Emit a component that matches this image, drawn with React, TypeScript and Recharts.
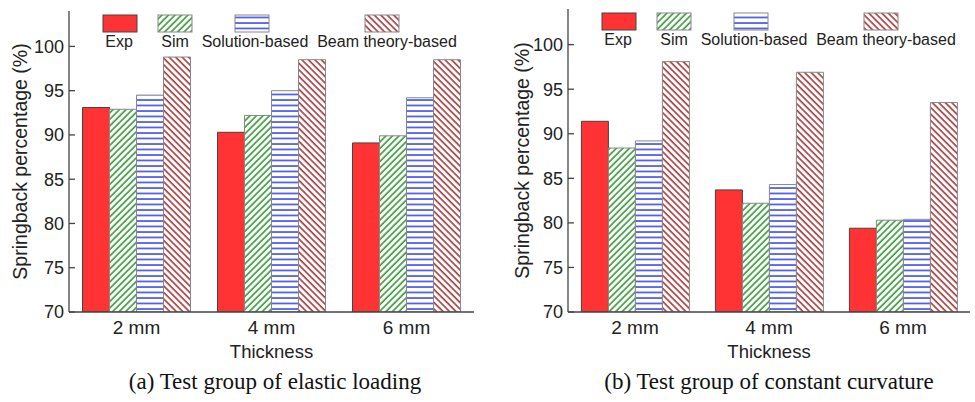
import { BarChart, Bar, XAxis, YAxis } from "recharts";

const thickness = ["2 mm", "4 mm", "6 mm"];
const seriesNames = ["Exp", "Sim", "Solution-based", "Beam theory-based"];

// (a) elastic loading
const elasticExp = [93.1, 90.3, 89.1];
const elasticSim = [92.9, 92.2, 89.9];
const elasticSol = [94.5, 95.0, 94.2];
const elasticBeam = [98.8, 98.5, 98.5];

// (b) constant curvature
const curvatureExp = [91.4, 83.7, 79.4];
const curvatureSim = [88.4, 82.2, 80.3];
const curvatureSol = [89.2, 84.3, 80.4];
const curvatureBeam = [98.1, 96.9, 93.5];

const yTicks = [70, 75, 80, 85, 90, 95, 100];

const AXIS = "#444";
const SANS = "'Liberation Sans', Arial, sans-serif";
const fills = ["#ff3333", "url(#pSim)", "url(#pSol)", "url(#pBeam)"];
const strokes = ["#444", "#888", "#888", "#888"];
const keys = ["exp", "sim", "sol", "beam"];

function Patterns() {
  return (
    <svg width={0} height={0} style={{ position: "absolute" }}>
      <defs>
        <pattern id="pSim" patternUnits="userSpaceOnUse" width={4.6} height={4.6} patternTransform="rotate(45)">
          <rect width={4.6} height={4.6} fill="#fff" />
          <line x1={1} y1={0} x2={1} y2={4.6} stroke="#1a8c1a" strokeWidth={1.4} />
        </pattern>
        <pattern id="pSol" patternUnits="userSpaceOnUse" width={6} height={5.5}>
          <rect width={6} height={5.5} fill="#fff" />
          <line x1={0} y1={1} x2={6} y2={1} stroke="#2233ee" strokeWidth={1.4} />
        </pattern>
        <pattern id="pBeam" patternUnits="userSpaceOnUse" width={4.6} height={4.6} patternTransform="rotate(-45)">
          <rect width={4.6} height={4.6} fill="#fff" />
          <line x1={1} y1={0} x2={1} y2={4.6} stroke="#9b1c1c" strokeWidth={1.4} />
        </pattern>
      </defs>
    </svg>
  );
}

const YTick = (props: any) => {
  const { x, y, payload } = props;
  return (
    <g>
      <line x1={x + 5} x2={x + 11} y1={y} y2={y} stroke={AXIS} strokeWidth={1.3} />
      <text x={x} y={y} dy="0.35em" textAnchor="end" fontSize={18} fontFamily={SANS} fill="#222">
        {payload.value}
      </text>
    </g>
  );
};

const swatchX = [34, 89, 166, 296];
const labelX = [50, 106, 186, 318];

function LegendOverlay({ plotLeft, top }: { plotLeft: number; top: number }) {
  return (
    <svg width="100%" height={60} style={{ position: "absolute", left: 0, top: 0, pointerEvents: "none" }}>
      {seriesNames.map((name, i) => (
        <g key={name}>
          <rect x={plotLeft + swatchX[i]} y={top} width={34} height={17} fill={fills[i]} stroke={strokes[i]} />
          <text x={plotLeft + labelX[i]} y={top + 32} textAnchor="middle" fontSize={16} fontFamily={SANS} fill="#222">
            {name}
          </text>
        </g>
      ))}
    </svg>
  );
}

function SpringbackChart(props: {
  exp: number[];
  sim: number[];
  sol: number[];
  beam: number[];
  width: number;
  yAxisWidth: number;
  top: number;
  right: number;
  labelX: number;
}) {
  const { exp, sim, sol, beam, width, yAxisWidth, top, right, labelX } = props;
  const data = thickness.map((t, i) => ({ t, exp: exp[i], sim: sim[i], sol: sol[i], beam: beam[i] }));
  const height = 370;
  const xAxisHeight = 58;
  const plotMid = (top + height - xAxisHeight) / 2;
  return (
    <div style={{ position: "relative", width, height }}>
      <BarChart
        width={width}
        height={height}
        data={data}
        margin={{ top, right, bottom: 0, left: 0 }}
        barCategoryGap="10%"
        barGap={0}
      >
        <XAxis
          dataKey="t"
          height={xAxisHeight}
          tickLine={false}
          tickSize={0}
          tickMargin={9}
          axisLine={{ stroke: AXIS, strokeWidth: 1.3 }}
          tick={{ fontSize: 19, fontFamily: SANS, fill: "#222" }}
          label={{ value: "Thickness", position: "insideBottom", offset: 12, fontSize: 18.5, fontFamily: SANS, fill: "#222" }}
        />
        <XAxis xAxisId="top" orientation="top" dataKey="t" height={0} tick={false} tickLine={false} axisLine={{ stroke: AXIS, strokeWidth: 1.3 }} />
        <YAxis
          domain={[70, 104]}
          ticks={yTicks}
          width={yAxisWidth}
          allowDataOverflow
          tickLine={false}
          tickSize={0}
          tickMargin={5}
          tick={<YTick />}
          axisLine={{ stroke: AXIS, strokeWidth: 1.3 }}
        />
        <YAxis yAxisId="r" orientation="right" domain={[70, 104]} width={0} tick={false} tickLine={false} axisLine={{ stroke: AXIS, strokeWidth: 1.3 }} />
        {keys.map((k, i) => (
          <Bar key={k} dataKey={k} fill={fills[i]} stroke={strokes[i]} strokeWidth={1} isAnimationActive={false} />
        ))}
      </BarChart>
      <svg width={40} height={height} style={{ position: "absolute", left: labelX - 20, top: 0, pointerEvents: "none" }}>
        <text
          x={20}
          y={plotMid}
          transform={`rotate(-90 20 ${plotMid})`}
          textAnchor="middle"
          dy="0.35em"
          fontSize={19.5}
          fontFamily={SANS}
          fill="#222"
        >
          Springback percentage (%)
        </text>
      </svg>
      <LegendOverlay plotLeft={yAxisWidth} top={top + 4} />
    </div>
  );
}

const captionStyle: React.CSSProperties = {
  position: "absolute",
  top: 369,
  fontFamily: "'Liberation Serif', 'Times New Roman', serif",
  fontSize: 23,
  color: "#111",
  textAlign: "center",
  whiteSpace: "nowrap",
};

export default function App() {
  return (
    <div style={{ position: "absolute", left: 0, top: 0, width: 975, height: 402, background: "#fff", overflow: "hidden" }}>
      <Patterns />
      <div style={{ position: "absolute", left: 0, top: 0 }}>
        <SpringbackChart
          exp={elasticExp}
          sim={elasticSim}
          sol={elasticSol}
          beam={elasticBeam}
          width={490}
          yAxisWidth={69}
          top={11}
          right={16}
          labelX={20}
        />
      </div>
      <div style={{ position: "absolute", left: 490, top: 0 }}>
        <SpringbackChart
          exp={curvatureExp}
          sim={curvatureSim}
          sol={curvatureSol}
          beam={curvatureBeam}
          width={485}
          yAxisWidth={78}
          top={9}
          right={5}
          labelX={32}
        />
      </div>
      <div style={{ ...captionStyle, left: 175, width: 200 }}>
        <span style={{ display: "inline-block", transform: "translateX(-50%)", marginLeft: 100 }}>(a) Test group of elastic loading</span>
      </div>
      <div style={{ ...captionStyle, left: 669, width: 200 }}>
        <span style={{ display: "inline-block", transform: "translateX(-50%)", marginLeft: 100 }}>(b) Test group of constant curvature</span>
      </div>
    </div>
  );
}
